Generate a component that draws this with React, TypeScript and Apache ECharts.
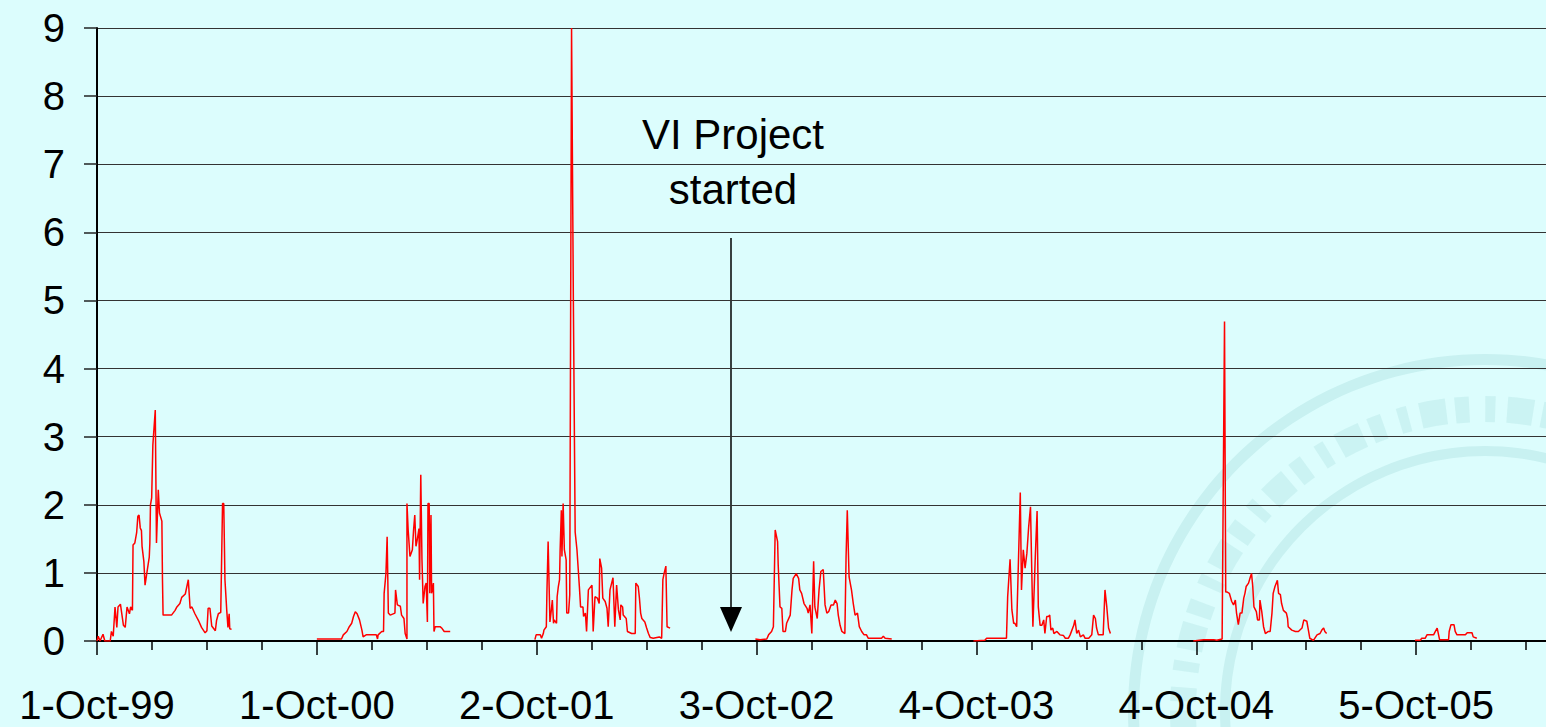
import React, { useEffect, useRef } from "react";
import * as echarts from "echarts";

// Day offsets from 1-Oct-1999, value pairs per season
const season1999: [number, number][] = [
  [0, 0], [2, 0.07], [5, 0], [10, 0.1], [13, 0], [22, 0], [24, 0.14], [27, 0.07], [30, 0.5], [33, 0.2],
  [35, 0.5], [39, 0.54], [44, 0.23], [47, 0.2], [50, 0.5], [54, 0.4], [56, 0.5], [59, 0.45], [60, 1.41],
  [63, 1.44], [66, 1.59], [68, 1.83], [70, 1.85], [72, 1.66], [74, 1.62], [75, 1.39], [78, 1.17], [80, 0.82],
  [83, 1.0], [87, 1.23], [88, 1.44], [89, 2.0], [91, 2.1], [93, 2.88], [97, 3.39], [99, 1.44], [102, 2.22],
  [104, 1.88], [108, 1.76], [109, 0.9], [110, 0.38], [124, 0.38], [130, 0.45], [133, 0.5], [138, 0.55],
  [141, 0.64], [147, 0.69], [152, 0.9], [155, 0.48], [158, 0.5], [163, 0.4], [169, 0.3], [174, 0.2],
  [180, 0.12], [183, 0.15], [185, 0.48], [188, 0.48], [191, 0.22], [197, 0.15], [199, 0.3], [202, 0.4],
  [206, 0.42], [209, 2.02], [211, 2.02], [213, 0.9], [216, 0.45], [218, 0.2], [220, 0.4], [221, 0.18], [224, 0.17],
];
const season2000: [number, number][] = [
  [366, 0.03], [407, 0.03], [410, 0.09], [416, 0.14], [420, 0.21], [424, 0.26], [427, 0.36], [430, 0.43],
  [433, 0.4], [437, 0.31], [441, 0.16], [443, 0.06], [448, 0.09], [457, 0.09], [465, 0.09], [467, 0.03],
  [468, 0.09], [474, 0.14], [477, 0.14], [478, 0.7], [481, 0.99], [483, 1.53], [485, 0.41], [488, 0.38],
  [496, 0.41], [497, 0.75], [500, 0.53], [505, 0.51], [507, 0.38], [511, 0.33], [513, 0.11], [516, 0.03],
  [516, 2.02], [518, 1.63], [521, 1.24], [525, 1.34], [527, 1.63], [529, 1.85], [531, 1.39], [533, 1.48],
  [536, 1.65], [537, 0.9], [539, 2.44], [541, 1.19], [543, 0.55], [546, 0.8], [548, 0.85], [550, 0.28],
  [551, 2.02], [553, 2.02], [554, 0.7], [556, 1.85], [557, 0.7], [560, 0.85], [561, 0.14], [563, 0.21],
  [571, 0.21], [574, 0.19], [578, 0.14], [588, 0.14],
];
const season2001: [number, number][] = [
  [729, 0.02], [731, 0.09], [738, 0.09], [740, 0.04], [743, 0.11], [744, 0.16], [748, 0.21], [749, 0.72],
  [751, 1.46], [754, 0.28], [756, 0.43], [758, 0.6], [760, 0.26], [761, 0.31], [765, 0.26], [766, 0.65],
  [768, 0.8], [770, 0.9], [771, 1.34], [773, 1.92], [774, 1.24], [776, 2.02], [778, 1.34], [781, 1.19],
  [782, 0.41], [785, 0.41], [787, 0.68], [790, 9.0], [793, 5.0], [796, 1.6], [799, 1.34], [803, 0.8],
  [805, 0.5], [809, 0.5], [810, 0.36], [813, 0.41], [815, 0.14], [818, 0.75], [824, 0.82], [826, 0.14],
  [829, 0.65], [833, 0.63], [836, 0.55], [837, 1.21], [840, 1.07], [842, 0.63], [846, 0.58], [849, 0.48],
  [851, 0.21], [854, 0.75], [859, 0.93], [862, 0.21], [865, 0.82], [868, 0.46], [871, 0.31], [872, 0.53],
  [875, 0.5], [876, 0.38], [881, 0.33], [883, 0.14], [890, 0.11], [896, 0.11], [897, 0.85], [901, 0.8],
  [903, 0.63], [905, 0.41], [907, 0.33], [912, 0.28], [915, 0.19], [918, 0.11], [921, 0.05], [926, 0.04],
  [936, 0.06], [940, 0.04], [942, 0.9], [944, 0.99], [947, 1.1], [949, 0.21], [954, 0.19],
];
const season2002: [number, number][] = [
  [1096, 0.03], [1104, 0.02], [1115, 0.03], [1118, 0.09], [1123, 0.14], [1126, 0.21], [1129, 1.63],
  [1133, 1.46], [1134, 1.12], [1137, 0.5], [1140, 0.48], [1142, 0.14], [1146, 0.14], [1148, 0.26],
  [1154, 0.38], [1157, 0.75], [1159, 0.92], [1164, 0.99], [1168, 0.92], [1170, 0.75], [1173, 0.7],
  [1177, 0.55], [1182, 0.48], [1184, 0.41], [1187, 0.53], [1190, 0.11], [1193, 1.17], [1195, 0.5],
  [1199, 0.33], [1202, 0.75], [1205, 1.02], [1209, 1.05], [1212, 0.53], [1215, 0.41], [1218, 0.43],
  [1222, 0.53], [1226, 0.53], [1229, 0.6], [1232, 0.55], [1234, 0.38], [1237, 0.23], [1240, 0.14],
  [1245, 0.11], [1247, 1.24], [1249, 1.92], [1252, 0.94], [1256, 0.75], [1259, 0.55], [1262, 0.38],
  [1266, 0.41], [1269, 0.21], [1273, 0.14], [1277, 0.09], [1281, 0.09], [1284, 0.04], [1293, 0.04],
  [1306, 0.04], [1309, 0.07], [1312, 0.04], [1323, 0.03],
];
const season2003: [number, number][] = [
  [1459, 0], [1478, 0.01], [1481, 0.04], [1514, 0.04], [1516, 0.65], [1520, 1.2], [1523, 0.46],
  [1526, 0.26], [1528, 0.26], [1531, 0.21], [1534, 1.19], [1537, 2.18], [1539, 0.75], [1542, 1.34],
  [1545, 1.07], [1548, 1.29], [1551, 1.68], [1554, 1.97], [1558, 0.21], [1562, 1.24], [1565, 1.91],
  [1567, 0.5], [1570, 0.23], [1573, 0.23], [1576, 0.31], [1578, 0.11], [1581, 0.36], [1584, 0.36],
  [1586, 0.38], [1588, 0.16], [1591, 0.19], [1593, 0.11], [1598, 0.14], [1601, 0.11], [1603, 0.09],
  [1609, 0.08], [1612, 0.04], [1617, 0.04], [1620, 0.09], [1626, 0.23], [1628, 0.31], [1631, 0.11],
  [1634, 0.16], [1637, 0.06], [1642, 0.09], [1645, 0.04], [1651, 0.04], [1656, 0.09], [1659, 0.38],
  [1662, 0.33], [1664, 0.19], [1667, 0.09], [1675, 0.09], [1678, 0.75], [1681, 0.5], [1684, 0.19], [1687, 0.11],
];
const season2004: [number, number][] = [
  [1825, 0], [1842, 0.02], [1859, 0.02], [1864, 0.01], [1873, 0.03], [1874, 0.03], [1877, 4.69],
  [1879, 0.72], [1881, 0.72], [1885, 0.7], [1889, 0.58], [1892, 0.53], [1895, 0.6], [1897, 0.41],
  [1900, 0.24], [1903, 0.41], [1906, 0.41], [1909, 0.63], [1911, 0.7], [1913, 0.8], [1917, 0.85],
  [1920, 0.94], [1922, 0.99], [1924, 0.8], [1926, 0.5], [1930, 0.43], [1932, 0.31], [1935, 0.31],
  [1936, 0.6], [1939, 0.43], [1942, 0.21], [1945, 0.11], [1950, 0.14], [1953, 0.14], [1956, 0.41],
  [1958, 0.7], [1961, 0.8], [1965, 0.89], [1967, 0.7], [1970, 0.68], [1972, 0.55], [1975, 0.45],
  [1980, 0.41], [1982, 0.33], [1983, 0.21], [1989, 0.16], [1995, 0.14], [2000, 0.14], [2006, 0.19],
  [2009, 0.31], [2014, 0.29], [2017, 0.14], [2019, 0.04], [2025, 0.01], [2031, 0.09], [2036, 0.11],
  [2039, 0.16], [2042, 0.19], [2044, 0.14], [2047, 0.11],
];
const season2005: [number, number][] = [
  [2194, 0.01], [2203, 0.01], [2205, 0.04], [2211, 0.04], [2214, 0.09], [2225, 0.09], [2228, 0.14],
  [2231, 0.19], [2235, 0.02], [2250, 0.02], [2251, 0.14], [2254, 0.24], [2259, 0.24], [2261, 0.14],
  [2264, 0.09], [2278, 0.09], [2281, 0.12], [2289, 0.12], [2291, 0.06], [2297, 0.04],
];
const seasons = [season1999, season2000, season2001, season2002, season2003, season2004, season2005];

const MONTHS = ["Jan", "Feb", "Mar", "Apr", "May", "Jun", "Jul", "Aug", "Sep", "Oct", "Nov", "Dec"];
const BASE_DATE = Date.UTC(1999, 9, 1);
const TICK_DAYS = 366;
const LAST_LABEL_DAY = 2196;
const annotationLines = ["VI Project", "started"];

const FONT = "'Liberation Sans', Arial, Helvetica, sans-serif";

export default function App() {
  const ref = useRef<HTMLDivElement>(null);
  useEffect(() => {
    if (!ref.current) return;
    const chart = echarts.init(ref.current, undefined, { renderer: "svg" });
    const wmColor = "#c8f1f1";
    chart.setOption({
      animation: false,
      backgroundColor: "#dcfdfd",
      textStyle: { fontFamily: FONT },
      grid: { left: 97, top: 28, bottom: 86, right: 4, containLabel: false },
      xAxis: {
        type: "value",
        min: 0,
        max: TICK_DAYS * 7,
        interval: TICK_DAYS,
        axisLine: { show: true, onZero: false, lineStyle: { color: "#000", width: 2 } },
        axisTick: { show: true, length: 14, lineStyle: { color: "#000", width: 1.5 } },
        minorTick: { show: true, splitNumber: 4, length: 9, lineStyle: { color: "#000", width: 1.5 } },
        splitLine: { show: false },
        minorSplitLine: { show: false },
        axisLabel: {
          fontSize: 40,
          color: "#000",
          fontFamily: FONT,
          margin: 44,
          formatter: (v: number) => {
            if (v % TICK_DAYS !== 0 || v > LAST_LABEL_DAY) return "";
            const d = new Date(BASE_DATE + v * 86400000);
            return `${d.getUTCDate()}-${MONTHS[d.getUTCMonth()]}-${String(d.getUTCFullYear()).slice(2)}`;
          },
        },
      },
      yAxis: {
        type: "value",
        min: 0,
        max: 9,
        interval: 1,
        axisLine: { show: true, lineStyle: { color: "#000", width: 2 } },
        axisTick: { show: true, length: 13, lineStyle: { color: "#222", width: 1.5 } },
        splitLine: { show: true, lineStyle: { color: "#333", width: 1 } },
        axisLabel: { fontSize: 40, color: "#000", fontFamily: FONT, margin: 32 },
      },
      graphic: [
        { type: "ring", z: -10, shape: { cx: 1485, cy: 711, r: 357, r0: 346 }, style: { fill: wmColor } },
        { type: "ring", z: -10, shape: { cx: 1485, cy: 711, r: 265, r0: 255 }, style: { fill: wmColor } },
        {
          type: "arc", z: -10,
          shape: { cx: 1485, cy: 711, r: 302, startAngle: Math.PI * 0.95, endAngle: Math.PI * 1.62 },
          style: { stroke: wmColor, lineWidth: 26, lineDash: [10, 12, 26, 9, 14, 16], fill: null, opacity: 0.85 },
        },
        {
          type: "text", x: 733, y: 134,
          style: { text: annotationLines[0], fontSize: 42, fontFamily: FONT, fill: "#000", align: "center", verticalAlign: "middle" },
        },
        {
          type: "text", x: 733, y: 189,
          style: { text: annotationLines[1], fontSize: 42, fontFamily: FONT, fill: "#000", align: "center", verticalAlign: "middle" },
        },
        { type: "line", shape: { x1: 731, y1: 238, x2: 731, y2: 612 }, style: { stroke: "#000", lineWidth: 1.5 } },
        { type: "polygon", shape: { points: [[720, 607], [742, 607], [731, 632]] }, style: { fill: "#000" } },
      ],
      series: seasons.map((s) => ({
        type: "line",
        data: s,
        symbol: "none",
        lineStyle: { color: "#ff0000", width: 1.5 },
        itemStyle: { color: "#ff0000" },
        z: 3,
      })),
    });
    return () => chart.dispose();
  }, []);
  return (
    <div style={{ position: "fixed", left: 0, top: 0, width: 1546, height: 727, overflow: "hidden" }}>
      <div ref={ref} style={{ width: 1640, height: 727 }} />
    </div>
  );
}
